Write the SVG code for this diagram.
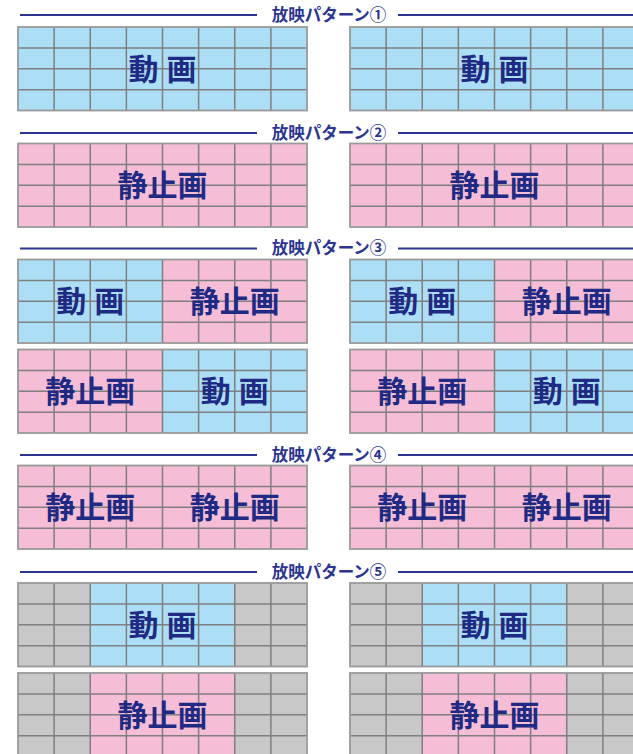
<svg xmlns="http://www.w3.org/2000/svg" xmlns:xlink="http://www.w3.org/1999/xlink" width="633" height="754" viewBox="0 0 633 754">
<style>
.bl{fill:#acdff5}
.pk{fill:#f5bdd6}
.gy{fill:#c8c8c8}
.gl{fill:none;stroke:#7f7f7f;stroke-width:1.5}
.bd{fill:none;stroke:#999999;stroke-width:1.8}
.rule{stroke:#2b3590;stroke-width:2.2;fill:none}
.ttl{font-family:"Noto Sans CJK JP","Noto Sans",sans-serif;font-weight:bold;font-size:16.5px;fill:#2b3590;text-anchor:middle}
.lbl{font-family:"Noto Sans CJK JP","Noto Sans",sans-serif;font-weight:bold;font-size:30px;fill:#1e2a84;text-anchor:middle}
</style>
<defs>
<g id="grid">
<path class="gl" d="M36.125 0V83.5M72.25 0V83.5M108.375 0V83.5M144.5 0V83.5M180.625 0V83.5M216.75 0V83.5M252.875 0V83.5M0 20.875H289M0 41.75H289M0 62.625H289"/>
<rect class="bd" x="0" y="0" width="289" height="83.5"/>
</g>
</defs>
<rect width="633" height="754" fill="#ffffff"/>

<g id="titles">
<g id="title1"><path class="rule" d="M20 15H257M398 15H633"/><text class="ttl" x="329" y="20.5">放映パターン①</text></g>
<g id="title2"><path class="rule" d="M20 133H257M398 133H633"/><text class="ttl" x="329" y="138.5">放映パターン②</text></g>
<g id="title3"><path class="rule" d="M20 248.5H257M398 248.5H633"/><text class="ttl" x="329" y="254">放映パターン③</text></g>
<g id="title4"><path class="rule" d="M20 455H257M398 455H633"/><text class="ttl" x="329" y="460.5">放映パターン④</text></g>
<g id="title5"><path class="rule" d="M20 572H257M398 572H633"/><text class="ttl" x="329" y="577.5">放映パターン⑤</text></g>
</g>

<!-- Pattern 1 -->
<g id="p1-left" transform="translate(18,27)">
<rect class="bl" width="289" height="83.5"/><use xlink:href="#grid"/>
<text class="lbl" x="144.5" y="52.5">動<tspan dx="8">画</tspan></text>
</g>
<g id="p1-right" transform="translate(350,27)">
<rect class="bl" width="289" height="83.5"/><use xlink:href="#grid"/>
<text class="lbl" x="144.5" y="52.5">動<tspan dx="8">画</tspan></text>
</g>

<!-- Pattern 2 -->
<g id="p2-left" transform="translate(18,143.5)">
<rect class="pk" width="289" height="83.5"/><use xlink:href="#grid"/>
<text class="lbl" x="144.5" y="52.5">静止画</text>
</g>
<g id="p2-right" transform="translate(350,143.5)">
<rect class="pk" width="289" height="83.5"/><use xlink:href="#grid"/>
<text class="lbl" x="144.5" y="52.5">静止画</text>
</g>

<!-- Pattern 3 -->
<g id="p3a-left" transform="translate(18,259.5)">
<rect class="bl" width="144.5" height="83.5"/><rect class="pk" x="144.5" width="144.5" height="83.5"/><use xlink:href="#grid"/>
<text class="lbl" x="72.25" y="52.5">動<tspan dx="8">画</tspan></text>
<text class="lbl" x="216.75" y="52.5">静止画</text>
</g>
<g id="p3a-right" transform="translate(350,259.5)">
<rect class="bl" width="144.5" height="83.5"/><rect class="pk" x="144.5" width="144.5" height="83.5"/><use xlink:href="#grid"/>
<text class="lbl" x="72.25" y="52.5">動<tspan dx="8">画</tspan></text>
<text class="lbl" x="216.75" y="52.5">静止画</text>
</g>
<g id="p3b-left" transform="translate(18,349.5)">
<rect class="pk" width="144.5" height="83.5"/><rect class="bl" x="144.5" width="144.5" height="83.5"/><use xlink:href="#grid"/>
<text class="lbl" x="72.25" y="52.5">静止画</text>
<text class="lbl" x="216.75" y="52.5">動<tspan dx="8">画</tspan></text>
</g>
<g id="p3b-right" transform="translate(350,349.5)">
<rect class="pk" width="144.5" height="83.5"/><rect class="bl" x="144.5" width="144.5" height="83.5"/><use xlink:href="#grid"/>
<text class="lbl" x="72.25" y="52.5">静止画</text>
<text class="lbl" x="216.75" y="52.5">動<tspan dx="8">画</tspan></text>
</g>

<!-- Pattern 4 -->
<g id="p4-left" transform="translate(18,465.5)">
<rect class="pk" width="289" height="83.5"/><use xlink:href="#grid"/>
<text class="lbl" x="72.25" y="52.5">静止画</text>
<text class="lbl" x="216.75" y="52.5">静止画</text>
</g>
<g id="p4-right" transform="translate(350,465.5)">
<rect class="pk" width="289" height="83.5"/><use xlink:href="#grid"/>
<text class="lbl" x="72.25" y="52.5">静止画</text>
<text class="lbl" x="216.75" y="52.5">静止画</text>
</g>

<!-- Pattern 5 -->
<g id="p5a-left" transform="translate(18,583)">
<rect class="gy" width="289" height="83.5"/><rect class="bl" x="72.25" width="144.5" height="83.5"/><use xlink:href="#grid"/>
<text class="lbl" x="144.5" y="52.5">動<tspan dx="8">画</tspan></text>
</g>
<g id="p5a-right" transform="translate(350,583)">
<rect class="gy" width="289" height="83.5"/><rect class="bl" x="72.25" width="144.5" height="83.5"/><use xlink:href="#grid"/>
<text class="lbl" x="144.5" y="52.5">動<tspan dx="8">画</tspan></text>
</g>
<g id="p5b-left" transform="translate(18,673)">
<rect class="gy" width="289" height="83.5"/><rect class="pk" x="72.25" width="144.5" height="83.5"/><use xlink:href="#grid"/>
<text class="lbl" x="144.5" y="52.5">静止画</text>
</g>
<g id="p5b-right" transform="translate(350,673)">
<rect class="gy" width="289" height="83.5"/><rect class="pk" x="72.25" width="144.5" height="83.5"/><use xlink:href="#grid"/>
<text class="lbl" x="144.5" y="52.5">静止画</text>
</g>
</svg>
